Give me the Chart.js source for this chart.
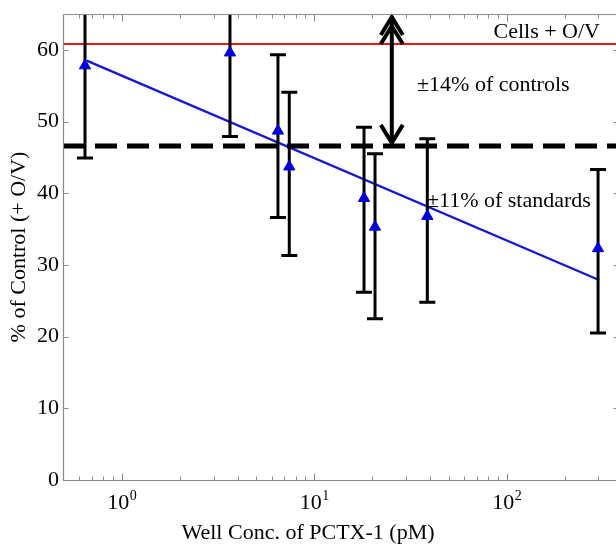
<!DOCTYPE html>
<html><head><meta charset="utf-8">
<script src="https://cdn.jsdelivr.net/npm/chart.js@4/dist/chart.umd.min.js"></script>
<style>html,body{margin:0;padding:0;overflow:hidden;background:#fff}canvas{display:block}</style>
</head><body>
<canvas id="c" width="616" height="544"></canvas>
<script>
// ---- data ----
const concentrations = [0.644, 3.65, 6.48, 7.42, 18.15, 20.7, 38.7, 298.5];   // pM
const percentControl = [57.8, 59.6, 48.7, 43.7, 39.3, 35.3, 36.8, 32.3];
const errorUpper     = [71.0, 71.4, 59.3, 54.1, 49.2, 45.5, 47.6, 43.3];
const errorLower     = [44.9, 47.9, 36.6, 31.3, 26.2, 22.5, 24.8, 20.5];
const fitX = [0.657, 302];
const fitY = [58.5, 27.9];
const controlLevel = 60.8;     // Cells + O/V
const standardsLevel = 46.6;   // lower limit line
const arrowX = 25.3;
const xRange = [0.495, 370];
const yRange = [0, 65];
const yTickValues = [0, 10, 20, 30, 40, 50, 60];
const xMajorTicks = [1, 10, 100];
const xTickBase = '10';
const xTickExponents = ['0', '1', '2'];
const xMinorTicks = [0.5,0.6,0.7,0.8,0.9,2,3,4,5,6,7,8,9,20,30,40,50,60,70,80,90,200,300];
const annotations = [
  {text: 'Cells + O/V',        x: 305.5, y: 62.5, align: 'right'},
  {text: '\u00B114% of controls',  x: 34.2,  y: 55.0, align: 'left'},
  {text: '\u00B111% of standards', x: 38.5,  y: 38.9, align: 'left'}
];
const xTitle = 'Well Conc. of PCTX-1 (pM)';
const yTitle = '% of Control (+ O/V)';

const FONT = '"Liberation Serif", "Times New Roman", serif';
const FRAME = '#8a8a8a';

const decor = {
  id: 'decor',
  beforeDatasetDraw(chart, args) {
    if (args.index !== 3) return;
    const {ctx, chartArea: a, scales: {x, y}} = chart;
    ctx.save();
    ctx.beginPath(); ctx.rect(a.left, a.top, a.right - a.left, a.bottom - a.top); ctx.clip();
    ctx.strokeStyle = '#000'; ctx.lineWidth = 3; ctx.lineCap = 'butt';
    concentrations.forEach((c, i) => {
      const px = x.getPixelForValue(c);
      const yt = y.getPixelForValue(errorUpper[i]);
      const yb = y.getPixelForValue(errorLower[i]);
      ctx.beginPath();
      ctx.moveTo(px, yt); ctx.lineTo(px, yb);
      ctx.moveTo(px - 8, yt); ctx.lineTo(px + 8, yt);
      ctx.moveTo(px - 8, yb); ctx.lineTo(px + 8, yb);
      ctx.stroke();
    });
    ctx.restore();
  },
  afterDatasetsDraw(chart) {
    const {ctx, chartArea: a, scales: {x, y}} = chart;
    ctx.save();
    // double arrow
    const ax = x.getPixelForValue(arrowX);
    const yTop = y.getPixelForValue(yRange[1]);
    const yBot = y.getPixelForValue(standardsLevel);
    ctx.strokeStyle = '#000'; ctx.lineWidth = 4; ctx.lineJoin = 'miter';
    ctx.beginPath(); ctx.moveTo(ax, yTop + 2); ctx.lineTo(ax, yBot - 3); ctx.stroke();
    const chev = (apex, dir) => {
      ctx.beginPath();
      ctx.moveTo(ax - 11, apex + dir * 18);
      ctx.lineTo(ax, apex);
      ctx.lineTo(ax + 11, apex + dir * 18);
      ctx.stroke();
    };
    chev(yTop + 3, 1); chev(yTop + 12, 1); chev(yBot - 3, -1);
    // text annotations
    ctx.fillStyle = '#000';
    ctx.font = '22px ' + FONT;
    ctx.textBaseline = 'middle';
    annotations.forEach(t => {
      ctx.textAlign = t.align;
      ctx.fillText(t.text, x.getPixelForValue(t.x), y.getPixelForValue(t.y));
    });
    ctx.restore();
  },
  afterDraw(chart) {
    const {ctx, chartArea: a, scales: {x, y}} = chart;
    ctx.save();
    ctx.strokeStyle = FRAME; ctx.lineWidth = 1.2;
    const L = Math.round(a.left) + 0.5, R = Math.round(a.right) + 3.5;
    const T = Math.round(a.top) + 0.5, B = Math.round(a.bottom) + 0.5;
    ctx.beginPath();
    ctx.moveTo(R, T); ctx.lineTo(L, T); ctx.lineTo(L, B); ctx.lineTo(R, B);
    ctx.stroke();
    ctx.lineWidth = 1;
    ctx.beginPath();
    const xt = (v, len) => {
      const px = Math.round(x.getPixelForValue(v)) + 0.5;
      if (px <= L + 1 || px >= R - 1) return;
      ctx.moveTo(px, B); ctx.lineTo(px, B - len);
      ctx.moveTo(px, T); ctx.lineTo(px, T + len);
    };
    xMajorTicks.forEach(v => xt(v, 7));
    xMinorTicks.forEach(v => xt(v, 4));
    yTickValues.forEach(v => {
      const py = Math.round(y.getPixelForValue(v)) + 0.5;
      if (py >= B - 1) return;
      ctx.moveTo(L, py); ctx.lineTo(L + 5, py);
      ctx.moveTo(R, py); ctx.lineTo(R - 6, py);
    });
    ctx.stroke();
    // x tick labels with superscript exponents
    ctx.fillStyle = '#000';
    ctx.textBaseline = 'alphabetic';
    ctx.textAlign = 'left';
    xMajorTicks.forEach((v, i) => {
      const px = x.getPixelForValue(v);
      ctx.font = '22px ' + FONT;
      const w1 = ctx.measureText(xTickBase).width;
      ctx.font = '14px ' + FONT;
      const w2 = ctx.measureText(xTickExponents[i]).width;
      const start = px - (w1 + w2) / 2;
      const base = B + 28;
      ctx.font = '22px ' + FONT;
      ctx.fillText(xTickBase, start, base);
      ctx.font = '14px ' + FONT;
      ctx.fillText(xTickExponents[i], start + w1 + 0.5, base - 9);
    });
    ctx.restore();
  }
};

const zeroPad = s => { s.paddingTop = 0; s.paddingBottom = 0; s.paddingLeft = 0; s.paddingRight = 0; };

new Chart(document.getElementById('c'), {
  type: 'scatter',
  data: {
    datasets: [
      {label: 'Cells + O/V', type: 'line',
       data: [{x: xRange[0], y: controlLevel}, {x: xRange[1], y: controlLevel}],
       borderColor: 'rgb(232,24,24)', borderWidth: 2, pointRadius: 0, order: 3},
      {label: 'Fit', type: 'line',
       data: fitX.map((v, i) => ({x: v, y: fitY[i]})),
       borderColor: '#1616dc', borderWidth: 2.4, pointRadius: 0, order: 2},
      {label: 'Standards', type: 'line',
       data: [{x: xRange[0], y: standardsLevel}, {x: xRange[1], y: standardsLevel}],
       borderColor: '#000', borderWidth: 5, borderDash: [22, 10], pointRadius: 0, order: 1},
      {label: 'PCTX-1', type: 'scatter',
       data: concentrations.map((c, i) => ({x: c, y: percentControl[i]})),
       pointStyle: 'triangle', pointRadius: 6.5, backgroundColor: '#0000e0',
       borderColor: '#0000e0', borderWidth: 1, order: 0}
    ]
  },
  options: {
    responsive: false, animation: false, events: [],
    layout: {autoPadding: false, padding: {top: 14, left: 0, right: 0, bottom: 0}},
    plugins: {
      legend: {display: false}, tooltip: {enabled: false},
      title: {display: true, position: 'bottom', text: xTitle, color: '#000',
              font: {family: FONT, size: 22, weight: 'normal', lineHeight: 1.0},
              padding: {top: 0, bottom: 0}}
    },
    scales: {
      x: {
        type: 'logarithmic', min: xRange[0], max: xRange[1],
        border: {display: false}, grid: {display: false, drawTicks: false},
        afterBuildTicks: s => { s.ticks = xMajorTicks.map(v => ({value: v})); },
        ticks: {display: false},
        afterFit: s => { s.height = 42; zeroPad(s); }
      },
      y: {
        min: yRange[0], max: yRange[1],
        border: {display: false}, grid: {display: false, drawTicks: false},
        afterBuildTicks: s => { s.ticks = yTickValues.map(v => ({value: v})); },
        ticks: {padding: 4, color: '#000', font: {family: FONT, size: 22}},
        title: {display: true, text: yTitle, color: '#000',
                font: {family: FONT, size: 22}, padding: {top: 6, bottom: 0}},
        afterFit: s => { s.width = 63; zeroPad(s); }
      }
    }
  },
  plugins: [decor]
});
</script>
</body></html>
